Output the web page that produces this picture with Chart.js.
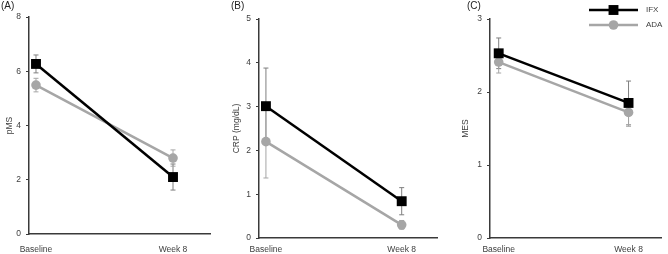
<!DOCTYPE html>
<html>
<head>
<meta charset="utf-8">
<script src="https://cdn.jsdelivr.net/npm/chart.js@4.4.0/dist/chart.umd.min.js"></script>
<style>
  html, body { margin: 0; padding: 0; background: #fff; }
  #wrap { position: relative; width: 668px; height: 254px; overflow: hidden; }
  .panel { position: absolute; top: 0; height: 254px; }
  .tag { position: absolute; top: 0; font: 10px "Liberation Sans", Arial, sans-serif; color: #222; }
</style>
</head>
<body>
<div id="wrap">
  <div class="panel" style="left:0;width:222px"><canvas id="cA" width="222" height="254"></canvas></div>
  <div class="panel" style="left:222px;width:222px"><canvas id="cB" width="222" height="254"></canvas></div>
  <div class="panel" style="left:444px;width:224px"><canvas id="cC" width="224" height="254"></canvas></div>
  <div class="tag" style="left:1px">(A)</div>
  <div class="tag" style="left:231px">(B)</div>
  <div class="tag" style="left:467px">(C)</div>
</div>
<script>
/* three small panels: pMS, CRP, MES by treatment */
const categories = ['Baseline', 'Week 8'];
const seriesNames = ['IFX', 'ADA'];

const pmsIFX = [6.27, 2.1];
const pmsIFXErr = [0.33, 0.48];
const pmsADA = [5.49, 2.8];
const pmsADAErr = [0.25, 0.3];

const crpIFX = [3.01, 0.84];
const crpIFXErr = [0.87, 0.31];
const crpADA = [2.2, 0.3];
const crpADAErr = [0.83, 0.1];

const mesIFX = [2.53, 1.85];
const mesIFXErr = [0.21, 0.3];
const mesADA = [2.41, 1.72];
const mesADAErr = [0.15, 0.19];

const FONT = '"Liberation Sans", Arial, sans-serif';
const AXIS = '#3a3a3a';
const TXT = '#404040';
const GREY = '#a6a6a6';

function pts(vals) { return vals.map((v, i) => ({ x: i, y: v })); }

const errorBars = {
  id: 'errorBars',
  beforeDatasetsDraw(chart) {
    const ctx = chart.ctx;
    const ys = chart.scales.y;
    chart.data.datasets.forEach((ds, di) => {
      const meta = chart.getDatasetMeta(di);
      ctx.save();
      ctx.strokeStyle = ds.errColor;
      ctx.lineWidth = 1;
      meta.data.forEach((p, i) => {
        const v = ds.data[i].y, e = ds.err[i];
        const top = ys.getPixelForValue(v + e);
        const bot = ys.getPixelForValue(v - e);
        ctx.beginPath();
        ctx.moveTo(p.x, top); ctx.lineTo(p.x, bot);
        ctx.moveTo(p.x - 2.5, top); ctx.lineTo(p.x + 2.5, top);
        ctx.moveTo(p.x - 2.5, bot); ctx.lineTo(p.x + 2.5, bot);
        ctx.stroke();
      });
      ctx.restore();
    });
  }
};

const legendBox = {
  id: 'legendBox',
  afterDraw(chart) {
    if (!chart.options.plugins.legendBox || !chart.options.plugins.legendBox.show) return;
    const ctx = chart.ctx;
    const rows = [10, 25];
    chart.data.datasets.forEach((ds, i) => {
      const y = rows[i];
      ctx.save();
      ctx.strokeStyle = ds.borderColor;
      ctx.lineWidth = ds.borderWidth;
      ctx.beginPath(); ctx.moveTo(145, y); ctx.lineTo(194, y); ctx.stroke();
      ctx.fillStyle = ds.pointBackgroundColor;
      ctx.beginPath();
      if (ds.pointStyle === 'rect') {
        const s = ds.pointRadius * Math.SQRT1_2;
        ctx.rect(169.5 - s, y - s, 2 * s, 2 * s);
      } else {
        ctx.arc(169.5, y, ds.pointRadius, 0, Math.PI * 2);
      }
      ctx.fill();
      ctx.fillStyle = TXT;
      ctx.font = '8px ' + FONT;
      ctx.textBaseline = 'middle';
      ctx.fillText(ds.label, 202, y);
      ctx.restore();
    });
  }
};

function makePanel(id, title, ifx, ifxErr, ada, adaErr, yMax, step, xMin, xMax, pad, yWidth, xHeight, titlePad, legend) {
  return new Chart(document.getElementById(id), {
    type: 'line',
    data: {
      datasets: [
        {
          label: seriesNames[0], data: pts(ifx), err: ifxErr, errColor: '#7f7f7f',
          borderColor: '#000', borderWidth: 2.5, pointStyle: 'rect', pointRadius: 7,
          pointBackgroundColor: '#000', pointBorderWidth: 0
        },
        {
          label: seriesNames[1], data: pts(ada), err: adaErr, errColor: GREY,
          borderColor: GREY, borderWidth: 2.5, pointStyle: 'circle', pointRadius: 4.8,
          pointBackgroundColor: GREY, pointBorderWidth: 0
        }
      ]
    },
    options: {
      responsive: false,
      animation: false,
      layout: { padding: pad },
      plugins: {
        legend: { display: false },
        tooltip: { enabled: false },
        legendBox: { show: legend }
      },
      scales: {
        x: {
          type: 'linear', min: xMin, max: xMax,
          afterBuildTicks: s => { s.ticks = categories.map((c, i) => ({ value: i })); },
          afterFit: s => { s.height = xHeight; },
          grid: { display: false, drawTicks: false },
          border: { color: AXIS, width: 1.5 },
          ticks: {
            autoSkip: false, maxRotation: 0, padding: xHeight - 9,
            color: TXT, font: { family: FONT, size: 8.5 },
            callback: v => categories[v]
          }
        },
        y: {
          min: 0, max: yMax,
          afterFit: s => { s.width = yWidth; },
          grid: { drawOnChartArea: false, drawTicks: true, tickLength: 3, color: AXIS },
          border: { color: AXIS, width: 1.5 },
          ticks: { stepSize: step, padding: 5, color: TXT, font: { family: FONT, size: 8.5 } },
          title: {
            display: true, text: title, color: TXT,
            font: { family: FONT, size: 8.5 }, padding: { top: titlePad, bottom: 0 }
          }
        }
      }
    },
    plugins: [errorBars, legendBox]
  });
}

makePanel('cA', 'pMS', pmsIFX, pmsIFXErr, pmsADA, pmsADAErr, 8, 2, -0.051, 1.27,
  { top: 17, right: 12, left: 0, bottom: 0 }, 29, 20, 5, false);
makePanel('cB', 'CRP (mg/dL)', crpIFX, crpIFXErr, crpADA, crpADAErr, 5, 1, -0.051, 1.26,
  { top: 19, right: 4, left: 0, bottom: 0 }, 37, 16, 10, false);
makePanel('cC', 'MES', mesIFX, mesIFXErr, mesADA, mesADAErr, 3, 1, -0.067, 1.25,
  { top: 19, right: 0, left: 0, bottom: 0 }, 46, 16, 17, true);
</script>
</body>
</html>
